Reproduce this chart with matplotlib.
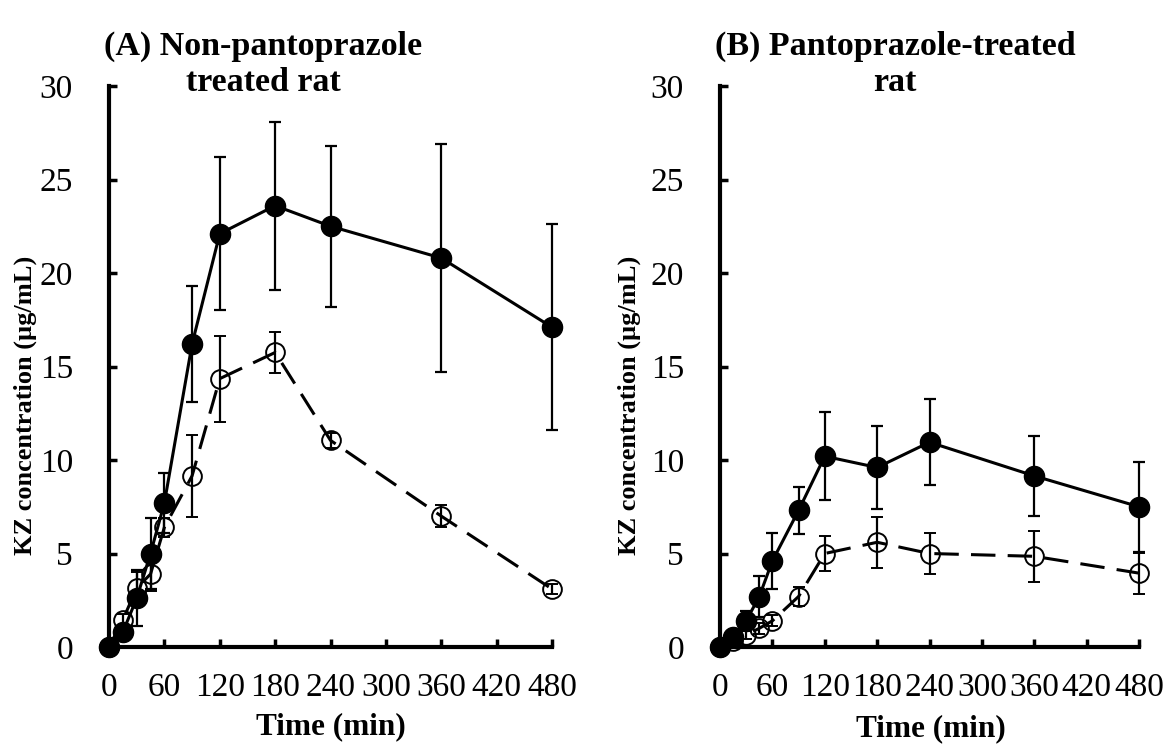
import matplotlib
matplotlib.use('Agg')
import matplotlib.pyplot as plt

plt.rcParams['font.family'] = 'Liberation Serif'

# sampling times (min)
time = [0, 15, 30, 45, 60, 90, 120, 180, 240, 360, 480]

# (A) non-pantoprazole treated rat
a_solid = [0, 0.8, 2.6, 5.0, 7.7, 16.2, 22.1, 23.6, 22.5, 20.8, 17.1]
a_solid_sd = [0, 0.3, 1.5, 1.9, 1.6, 3.1, 4.1, 4.5, 4.3, 6.1, 5.5]
a_open = [0, 1.45, 3.15, 3.9, 6.4, 9.15, 14.35, 15.75, 11.05, 7.0, 3.1]
a_open_sd = [0, 0.3, 0.85, 0.9, 0.5, 2.2, 2.3, 1.1, 0.4, 0.6, 0.25]

# (B) pantoprazole-treated rat
b_solid = [0, 0.55, 1.4, 2.7, 4.6, 7.3, 10.2, 9.6, 10.95, 9.15, 7.5]
b_solid_sd = [0, 0.2, 0.5, 1.1, 1.5, 1.25, 2.35, 2.2, 2.3, 2.15, 2.4]
b_open = [0, 0.3, 0.65, 1.0, 1.4, 2.7, 5.0, 5.6, 5.0, 4.85, 3.95]
b_open_sd = [0, 0.1, 0.2, 0.3, 0.3, 0.5, 0.95, 1.35, 1.1, 1.35, 1.1]

xticks = [0, 60, 120, 180, 240, 300, 360, 420, 480]
yticks = [0, 5, 10, 15, 20, 25, 30]

W, H = 1166, 744
fig = plt.figure(figsize=(W / 100, H / 100), dpi=100)


def panel(left, width, solid, solid_sd, opn, opn_sd):
    ax = fig.add_axes([left / W, (H - 647) / H, width / W, 561 / H])
    ax.errorbar(time, opn, yerr=opn_sd, color='black', linestyle=(0, (8, 4)),
                linewidth=2.2, marker='o', markersize=13.5, markerfacecolor='none',
                markeredgewidth=1.4, ecolor='black', elinewidth=1.6, capsize=4,
                capthick=1.6, clip_on=False, zorder=2)
    ax.errorbar(time, solid, yerr=solid_sd, color='black', linestyle='-',
                linewidth=2.2, marker='o', markersize=14.5, markerfacecolor='black',
                ecolor='black', elinewidth=1.6, capsize=4, capthick=1.6,
                clip_on=False, zorder=3)
    ax.set_xlim(0, 480)
    ax.set_ylim(0, 30)
    ax.set_xticks(xticks)
    ax.set_yticks(yticks)
    for s in ['top', 'right']:
        ax.spines[s].set_visible(False)
    for s in ['left', 'bottom']:
        ax.spines[s].set_linewidth(3)
    ax.tick_params(direction='in', length=6, width=2.5, labelsize=24)
    ax.tick_params(axis='y', pad=26)
    ax.tick_params(axis='x', pad=18)
    return ax


panel(109, 443, a_solid, a_solid_sd, a_open, a_open_sd)
panel(720, 419, b_solid, b_solid_sd, b_open, b_open_sd)

title_kw = dict(ha='center', va='top', fontsize=24.5, fontweight='bold', linespacing=1.2)
fig.text(263 / W, 1 - 31 / H, '(A) Non-pantoprazole\ntreated rat', **title_kw)
fig.text(895 / W, 1 - 31 / H, '(B) Pantoprazole-treated\nrat', **title_kw)

ylab_kw = dict(ha='center', va='center', fontsize=19, fontweight='bold')
fig.text(25 / W, 1 - 405 / H, 'KZ concentration (µg/mL)', rotation=90, **ylab_kw)
fig.text(629 / W, 1 - 405 / H, 'KZ concentration (µg/mL)', rotation=90, **ylab_kw)
xlab_kw = dict(ha='center', va='center', fontsize=22.5, fontweight='bold')
fig.text(331 / W, 1 - 727 / H, 'Time (min)', **xlab_kw)
fig.text(931 / W, 1 - 729 / H, 'Time (min)', **xlab_kw)

fig.savefig('out.png', dpi=100)
